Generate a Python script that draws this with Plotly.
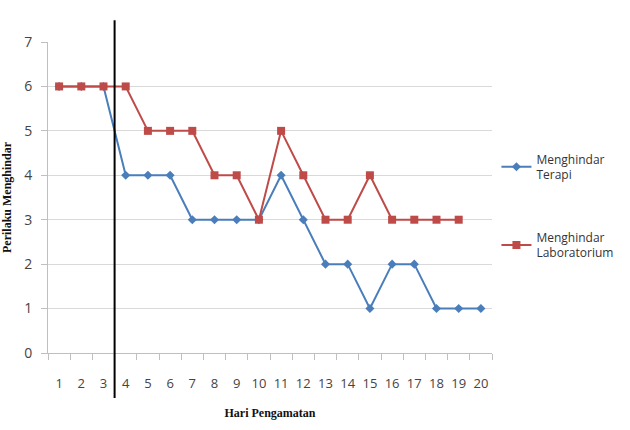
import plotly.graph_objects as go

days = list(range(1, 21))
terapi = [6, 6, 6, 4, 4, 4, 3, 3, 3, 3, 4, 3, 2, 2, 1, 2, 2, 1, 1, 1]
lab_days = list(range(1, 20))
lab = [6, 6, 6, 6, 5, 5, 5, 4, 4, 3, 5, 4, 3, 3, 4, 3, 3, 3, 3]
phase_split = 3.5

fig = go.Figure()
fig.add_trace(go.Scatter(x=days, y=terapi, mode="lines+markers",
                         name="Menghindar<br>Terapi", legendgroup="a",
                         line=dict(color="#4A7EBB", width=2),
                         marker=dict(symbol="diamond", size=7, color="#4A7EBB")))
fig.add_trace(go.Scatter(x=lab_days, y=lab, mode="lines+markers",
                         name="Menghindar<br>Laboratorium", legendgroup="b",
                         line=dict(color="#BE4B48", width=2),
                         marker=dict(symbol="square", size=8, color="#BE4B48")))

fig.add_shape(type="line", xref="x", yref="paper", x0=phase_split, x1=phase_split,
              y0=-0.145, y1=1.07, line=dict(color="black", width=2))

fig.update_layout(
    width=630, height=430,
    margin=dict(l=48, r=138, t=42, b=77, autoexpand=False),
    paper_bgcolor="white", plot_bgcolor="white",
    font=dict(family="Open Sans", size=13, color="#444"),
    xaxis=dict(range=[0.5, 20.5], tickvals=days, ticktext=[str(d) for d in days],
               showgrid=False, zeroline=False, showline=True, linecolor="#bfbfbf",
               ticks="", ticklabelstandoff=18,
               minor=dict(tickvals=[d + 0.5 for d in range(0, 21)], ticks="outside",
                          ticklen=6, tickcolor="#bfbfbf", showgrid=False),
               title=dict(text="<b>Hari Pengamatan</b>",
                          font=dict(family="Liberation Serif", size=12, color="#111"),
                          standoff=18),
               tickfont=dict(size=13, color="#444")),
    yaxis=dict(range=[0, 7], dtick=1, showgrid=True, gridcolor="#d9d9d9",
               zeroline=False, showline=True, linecolor="#bfbfbf",
               ticks="outside", ticklen=6, tickcolor="#bfbfbf", ticklabelstandoff=6,
               title=dict(text="<b>Perilaku Menghindar</b>",
                          font=dict(family="Liberation Serif", size=12, color="#111"),
                          standoff=12),
               tickfont=dict(size=14, color="#444")),
    legend=dict(x=1.01, y=0.67, xanchor="left", yanchor="top",
                font=dict(size=12, color="#333"), tracegroupgap=44,
                itemwidth=30, bgcolor="rgba(0,0,0,0)"),
    showlegend=True,
)

fig.write_html("out.html")
